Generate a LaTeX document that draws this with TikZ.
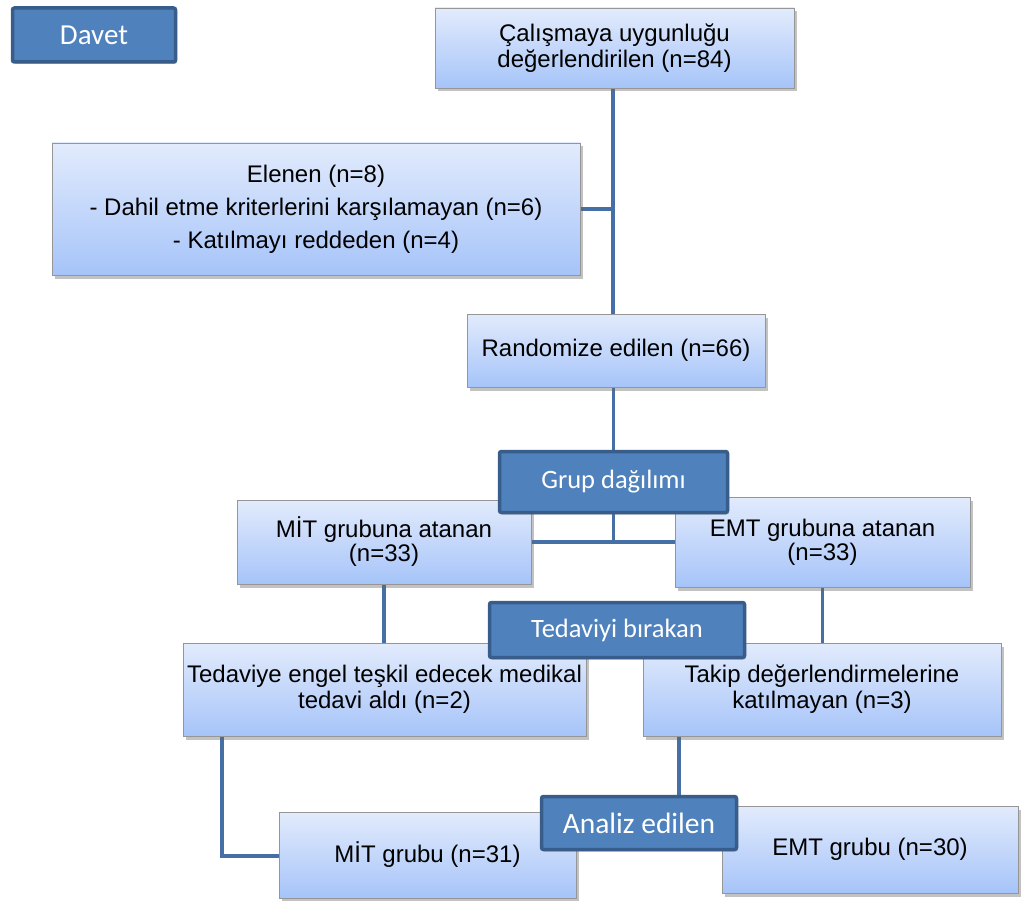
\documentclass[tikz,border=0pt]{standalone}
\usepackage{fontspec}
\setmainfont{Liberation Sans}
\newfontfamily\calfont{Carlito}
\usetikzlibrary{shadows,backgrounds}
\definecolor{lighttop}{RGB}{226,235,252}
\definecolor{lightbot}{RGB}{166,196,249}
\definecolor{darkfill}{RGB}{79,129,189}
\definecolor{darkedge}{RGB}{56,93,138}
\definecolor{linkcol}{RGB}{70,111,166}
\definecolor{boxedge}{RGB}{150,150,150}
\tikzset{
  lightbox/.style={draw=boxedge, line width=0.8pt, top color=lighttop, bottom color=lightbot,
    align=center, inner sep=0pt, font=\fontsize{24}{26}\selectfont,
    drop shadow={shadow xshift=2.5pt, shadow yshift=-3.5pt, opacity=0.4, fill=black!60}},
  darkbox/.style={draw=darkedge, line width=3.5pt, fill=darkfill, rounded corners=2pt,
    text=white, align=center, inner sep=0pt, font=\calfont\fontsize{26.5}{30}\selectfont,
    drop shadow={shadow xshift=1.5pt, shadow yshift=-2pt, opacity=0.3, fill=black!60}},
  link/.style={draw=linkcol, line width=3.8pt}
}
\begin{document}
\begin{tikzpicture}[x=1pt,y=-1pt]
\useasboundingbox (0,0) rectangle (1022,901);
% light boxes
\node[lightbox, minimum width=359pt, minimum height=80pt] (top) at (614.5,48) {Çalışmaya uygunluğu\\değerlendirilen (n=84)};
\node[lightbox, minimum width=528pt, minimum height=132pt, font=\fontsize{24}{33}\selectfont] (elenen) at (316,209) {Elenen (n=8)\\- Dahil etme kriterlerini karşılamayan (n=6)\\- Katılmayı reddeden (n=4)};
\node[lightbox, minimum width=298pt, minimum height=73pt] (rand) at (616,350.5) {Randomize edilen (n=66)};
\node[lightbox, minimum width=294pt, minimum height=84pt, font=\fontsize{24}{24}\selectfont] (mit) at (384,542) {MİT grubuna atanan\\(n=33)};
\node[lightbox, minimum width=295pt, minimum height=90pt, font=\fontsize{24}{24}\selectfont] (emt) at (822.5,542) {EMT grubuna atanan\\(n=33)};
\node[lightbox, minimum width=403pt, minimum height=93pt] (tedav) at (384.5,689.5) {Tedaviye engel teşkil edecek medikal\\tedavi aldı (n=2)};
\node[lightbox, minimum width=358pt, minimum height=93pt] (takip) at (822,689.5) {Takip değerlendirmelerine\\katılmayan (n=3)};
\node[lightbox, minimum width=297pt, minimum height=86pt] (mitg) at (427.5,855) {MİT grubu (n=31)};
\node[lightbox, minimum width=296pt, minimum height=87pt] (emtg) at (870,849.5) {EMT grubu (n=30)};
% dark boxes
\node[darkbox, minimum width=163pt, minimum height=54pt, font=\calfont\fontsize{29}{30}\selectfont] (davet) at (94,35) {Davet};
\node[darkbox, minimum width=228pt, minimum height=61pt] (grup) at (613.5,482) {Grup dağılımı};
\node[darkbox, minimum width=255pt, minimum height=55pt] (ted) at (617,630) {Tedaviyi bırakan};
\node[darkbox, minimum width=195pt, minimum height=53pt, font=\calfont\fontsize{29.5}{30}\selectfont] (analiz) at (639,823) {Analiz edilen};
% connectors
\begin{scope}[on background layer]
\coordinate (trunk) at (613,0);
\draw[link] (top.south -| trunk) -- (rand.north -| trunk);
\draw[link] (elenen.east) -- (elenen.east -| trunk);
\draw[link] (rand.south -| grup.south) -- (grup.south);
\coordinate (junc) at (grup.south |- mit.east);
\draw[link] (grup.south) -- (junc);
\draw[link] (mit.east) -- (mit.east -| emt.west);
\draw[link] (mit.south) -- (mit.south |- tedav.north);
\draw[link] (emt.south) -- (emt.south |- takip.north);
\coordinate (lcorner) at (222,856);
\draw[link] (tedav.south -| lcorner) -- (lcorner) -- (lcorner -| mitg.west);
\coordinate (rdrop) at (679,0);
\draw[link] (takip.south -| rdrop) -- (analiz.north -| rdrop);
\end{scope}
\end{tikzpicture}
\end{document}
